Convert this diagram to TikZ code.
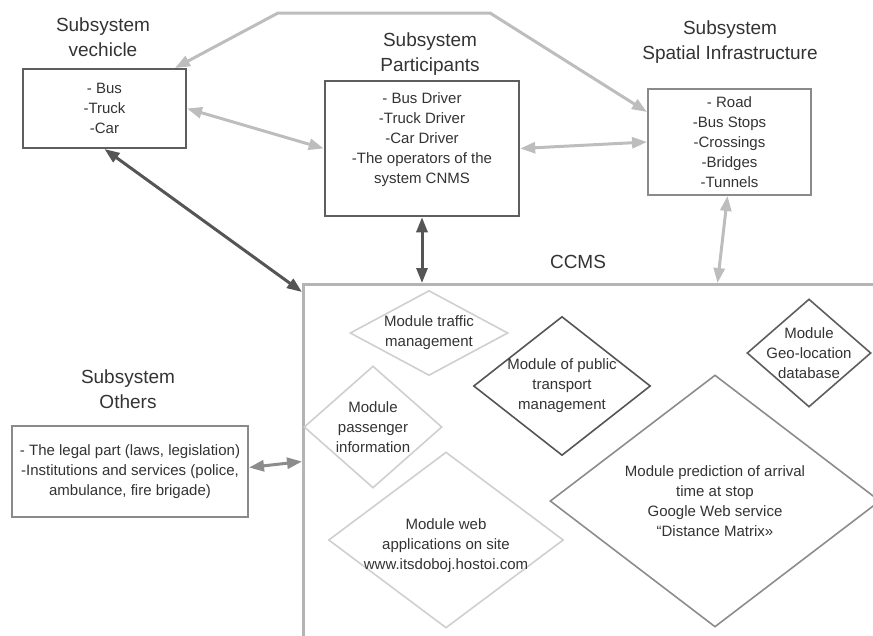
\documentclass[tikz,border=0pt]{standalone}
\usepackage{fontspec}
\setmainfont{Liberation Sans}
\usetikzlibrary{shapes.geometric}
\usetikzlibrary{arrows.meta}

\definecolor{txtgray}{HTML}{333333}
\definecolor{boxgray}{HTML}{5E5E5E}
\definecolor{boxlight}{HTML}{8A8A8A}
\definecolor{lightln}{HTML}{BDBDBD}
\definecolor{midln}{HTML}{8C8C8C}
\definecolor{darkln}{HTML}{555555}
\definecolor{ccmsgray}{HTML}{B4B4B4}
\definecolor{dialight}{HTML}{CFCFCF}

\begin{document}
\begin{tikzpicture}[x=1pt, y=-1pt, >={Triangle[length=15pt,width=11pt]},
    title/.style={align=center, text=txtgray, font=\fontsize{19}{25}\selectfont},
    subbox/.style={draw=#1, line width=2pt, fill=white, align=center, text=txtgray,
      font=\fontsize{15}{20}\selectfont, inner sep=0pt},
    modl/.style={diamond, draw=#1, line width=1.6pt, inner sep=0pt},
    modtext/.style={align=center, text=txtgray, font=\fontsize{15}{20}\selectfont},
    link/.style={<->, line width=3pt, draw=#1}]
  \useasboundingbox (0,0) rectangle (873,635);

  % subsystems
  \node[title] (vehT) at (103,37.5) {Subsystem\\vechicle};
  \node[subbox=boxgray, minimum width=163pt, minimum height=79pt] (veh) at (104.5,108.5)
    {- Bus\\-Truck\\-Car};
  \node[title] (partT) at (430,54) {Subsystem\\Participants};
  \node[subbox=boxgray, line width=2.5pt, minimum width=194pt, minimum height=135pt] (part) at (422,148.5)
    {- Bus Driver\\-Truck Driver\\-Car Driver\\-The operators of the\\system CNMS\\ \mbox{}};
  \node[title] (spatT) at (730,42) {Subsystem\\Spatial Infrastructure};
  \node[subbox=boxlight, minimum width=163pt, minimum height=106pt] (spat) at (729.5,142)
    {- Road\\-Bus Stops\\-Crossings\\-Bridges\\-Tunnels};
  \node[title] (othT) at (128,389) {Subsystem\\Others};
  \node[subbox=boxlight, minimum width=236pt, minimum height=91pt] (oth) at (130,471.5)
    {- The legal part (laws, legislation)\\-Institutions and services (police,\\ambulance, fire brigade)};

  % CCMS and its modules
  \node[title] (ccmsT) at (578,262) {CCMS};
  \node[draw=ccmsgray, line width=3pt, anchor=north west, inner sep=0pt,
    minimum width=650pt, minimum height=420pt] (ccms) at (302,283) {};
  \node[modl=dialight, minimum width=158pt, minimum height=85pt,
    label={[modtext]center:Module traffic\\management}] (traffic) at (429,333) {};
  \node[modl=dialight, minimum width=138pt, minimum height=122pt,
    label={[modtext]center:Module\\passenger\\information}] (passenger) at (373,427) {};
  \node[modl=darkln, minimum width=177pt, minimum height=139pt,
    label={[modtext]center:Module of public\\transport\\management}] (public) at (562,386) {};
  \node[modl=boxgray, minimum width=124pt, minimum height=108pt,
    label={[modtext]center:Module\\Geo-location\\database}] (geo) at (809,353) {};
  \node[modl=dialight, minimum width=235pt, minimum height=176pt,
    label={[modtext, yshift=-6pt]center:Module web\\applications on site\\www.itsdoboj.hostoi.com}] (web) at (446,540) {};
  \node[modl=midln, minimum width=330pt, minimum height=252pt,
    label={[modtext]center:Module prediction of arrival\\time at stop\\Google Web service\\“Distance Matrix»}] (predict) at (715,501) {};

  % links
  \coordinate (bendL) at (278,13);
  \coordinate (bendR) at (490,13);
  \draw[link=lightln] ([xshift=-12pt]veh.north east) -- (bendL) -- (bendR) -- ([yshift=-24pt]spat.north west);
  \draw[link=lightln] (veh.east) -- (part.west);
  \draw[link=lightln] (part.east) -- (spat.west);
  \draw[link=darkln] (veh.south) -- ([yshift=-9pt]ccms.north west);
  \draw[link=darkln] (part.south) -- (part.south |- ccms.north);
  \draw[link=lightln] ([xshift=-2pt]spat.south) -- ([xshift=-12pt]spat.south |- ccms.north);
  \draw[link=midln] ([yshift=4pt]oth.east) -- ([yshift=10pt]oth.east -| ccms.west);
\end{tikzpicture}
\end{document}
